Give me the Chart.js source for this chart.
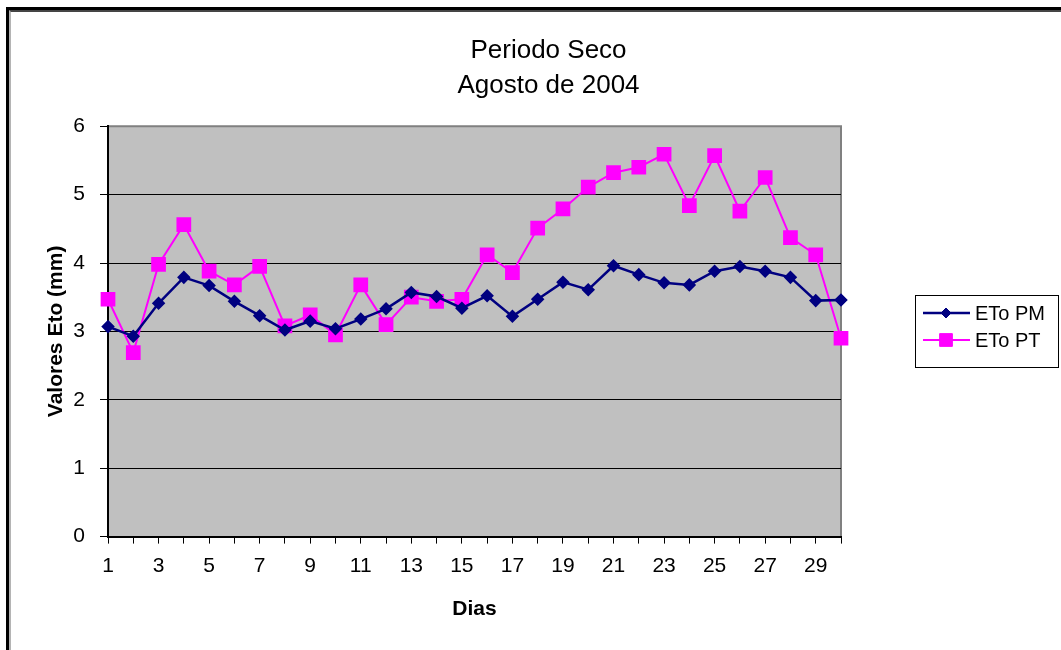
<!DOCTYPE html>
<html>
<head>
<meta charset="utf-8">
<script src="https://cdn.jsdelivr.net/npm/chart.js@4.4.1/dist/chart.umd.min.js"></script>
<style>
  html, body { margin: 0; padding: 0; background: #fff; overflow: hidden; }
  #wrap { position: relative; width: 1061px; height: 650px; }
  #frameOuter { position: absolute; left: 6px; top: 7px; right: -20px; bottom: -20px;
    border-top: 3px solid #000; border-left: 3px solid #000; pointer-events: none; }
  #frameInner { position: absolute; left: 0; top: 0; right: 0; bottom: 0;
    border-top: 2px solid #454545; border-left: 2px solid #b4b4b4; }
</style>
</head>
<body>
<div id="wrap">
  <canvas id="etoChart" width="1061" height="650"></canvas>
  <div id="frameOuter"><div id="frameInner"></div></div>
</div>
<script>
const dias = ['1','2','3','4','5','6','7','8','9','10','11','12','13','14','15',
  '16','17','18','19','20','21','22','23','24','25','26','27','28','29','30'];

const etoPM = [3.07, 2.93, 3.41, 3.79, 3.67, 3.44, 3.23, 3.02, 3.15, 3.04,
  3.18, 3.33, 3.57, 3.51, 3.34, 3.52, 3.22, 3.47, 3.72, 3.61,
  3.96, 3.83, 3.71, 3.68, 3.88, 3.95, 3.88, 3.79, 3.45, 3.46];

const etoPT = [3.47, 2.69, 3.98, 4.56, 3.88, 3.68, 3.95, 3.08, 3.24, 2.95,
  3.68, 3.10, 3.50, 3.44, 3.47, 4.12, 3.86, 4.51, 4.79, 5.11,
  5.32, 5.40, 5.59, 4.84, 5.57, 4.76, 5.25, 4.37, 4.12, 2.90];

const yTicks = [0, 1, 2, 3, 4, 5, 6];

const FONT = '"Liberation Sans", Arial, sans-serif';

// grey plot background with a grey frame on top and right
const plotBackground = {
  id: 'plotBackground',
  beforeDraw(chart) {
    const { ctx, chartArea: a } = chart;
    ctx.save();
    ctx.fillStyle = '#c0c0c0';
    ctx.fillRect(a.left, a.top, a.right - a.left, a.bottom - a.top);
    ctx.strokeStyle = '#808080';
    ctx.lineWidth = 2;
    ctx.beginPath();
    ctx.moveTo(a.left, a.top);
    ctx.lineTo(a.right, a.top);
    ctx.lineTo(a.right, a.bottom);
    ctx.stroke();
    ctx.restore();
  }
};

// boxed legend to the right of the plot, like the Excel one
const boxLegend = {
  id: 'boxLegend',
  afterDraw(chart) {
    const ctx = chart.ctx;
    const x = 915, y = 295, w = 143, h = 72;
    ctx.save();
    ctx.fillStyle = '#fff';
    ctx.fillRect(x, y, w, h);
    ctx.strokeStyle = '#000';
    ctx.lineWidth = 1;
    ctx.strokeRect(x + 0.5, y + 0.5, w, h);
    chart.data.datasets.forEach((ds, i) => {
      const ly = y + 18 + i * 27;
      ctx.strokeStyle = ds.borderColor;
      ctx.lineWidth = ds.borderWidth;
      ctx.beginPath();
      ctx.moveTo(x + 8, ly);
      ctx.lineTo(x + 55, ly);
      ctx.stroke();
      ctx.fillStyle = ds.pointBackgroundColor;
      ctx.strokeStyle = ds.pointBorderColor;
      ctx.lineWidth = 1;
      Chart.helpers.drawPoint(ctx, {
        pointStyle: ds.pointStyle,
        radius: ds.pointRadius,
        rotation: 0,
        borderWidth: 1
      }, x + 31, ly);
      ctx.fillStyle = '#000';
      ctx.font = '20px ' + FONT;
      ctx.textBaseline = 'middle';
      ctx.fillText(ds.label, x + 60, ly + 1);
    });
    ctx.restore();
  }
};

new Chart(document.getElementById('etoChart'), {
  type: 'line',
  data: {
    labels: dias,
    datasets: [{
      label: 'ETo PM',
      data: etoPM,
      borderColor: '#000080',
      backgroundColor: '#000080',
      borderWidth: 2.5,
      pointStyle: 'rectRot',
      pointRadius: 5,
      pointBorderColor: '#000080',
      pointBackgroundColor: '#000080',
      tension: 0
    }, {
      label: 'ETo PT',
      data: etoPT,
      borderColor: '#ff00ff',
      backgroundColor: '#ff00ff',
      borderWidth: 2,
      pointStyle: 'rect',
      pointRadius: 9,
      pointBorderColor: '#ff00ff',
      pointBackgroundColor: '#ff00ff',
      tension: 0
    }]
  },
  options: {
    responsive: false,
    animation: false,
    layout: { padding: { left: 40, right: 4, top: 10, bottom: 28 } },
    plugins: {
      legend: { display: false },
      tooltip: { enabled: false },
      title: {
        display: true,
        text: ['Periodo Seco', 'Agosto de 2004'],
        color: '#000',
        font: { family: FONT, size: 26, weight: 'normal', lineHeight: 1.35 },
        padding: { top: 23, bottom: 23 }
      }
    },
    scales: {
      x: {
        offset: false,
        grid: {
          display: true,
          drawOnChartArea: false,
          drawTicks: true,
          tickLength: 7,
          color: '#000'
        },
        border: { display: true, color: '#000', width: 2 },
        ticks: {
          autoSkip: false,
          maxRotation: 0,
          padding: 10,
          color: '#000',
          font: { family: FONT, size: 21 },
          callback: (v, i) => (i % 2 === 0 ? dias[i] : '')
        },
        title: {
          display: true,
          text: 'Dias',
          color: '#000',
          font: { family: FONT, size: 21, weight: 'bold' },
          padding: { top: 8, bottom: 0 }
        }
      },
      y: {
        min: 0,
        max: 6,
        afterBuildTicks: scale => { scale.ticks = yTicks.map(v => ({ value: v })); },
        afterFit: scale => { scale.width = 68; },
        grid: {
          color: ctx => (ctx.tick && ctx.tick.value === 6 ? '#808080' : '#000'),
          tickColor: '#000',
          tickLength: 8,
          lineWidth: 1
        },
        border: { display: true, color: '#000', width: 2 },
        ticks: {
          padding: 15,
          color: '#000',
          font: { family: FONT, size: 21 }
        },
        title: {
          display: true,
          text: 'Valores Eto (mm)',
          color: '#000',
          font: { family: FONT, size: 21, weight: 'bold' },
          padding: { top: 4, bottom: 4 }
        }
      },
      // empty right-hand box that keeps room for the legend
      spacer: {
        type: 'linear',
        position: 'right',
        display: true,
        afterFit: scale => { scale.width = 216; },
        grid: { display: false, drawTicks: false },
        border: { display: false },
        ticks: { display: false }
      }
    }
  },
  plugins: [plotBackground, boxLegend]
});
</script>
</body>
</html>
